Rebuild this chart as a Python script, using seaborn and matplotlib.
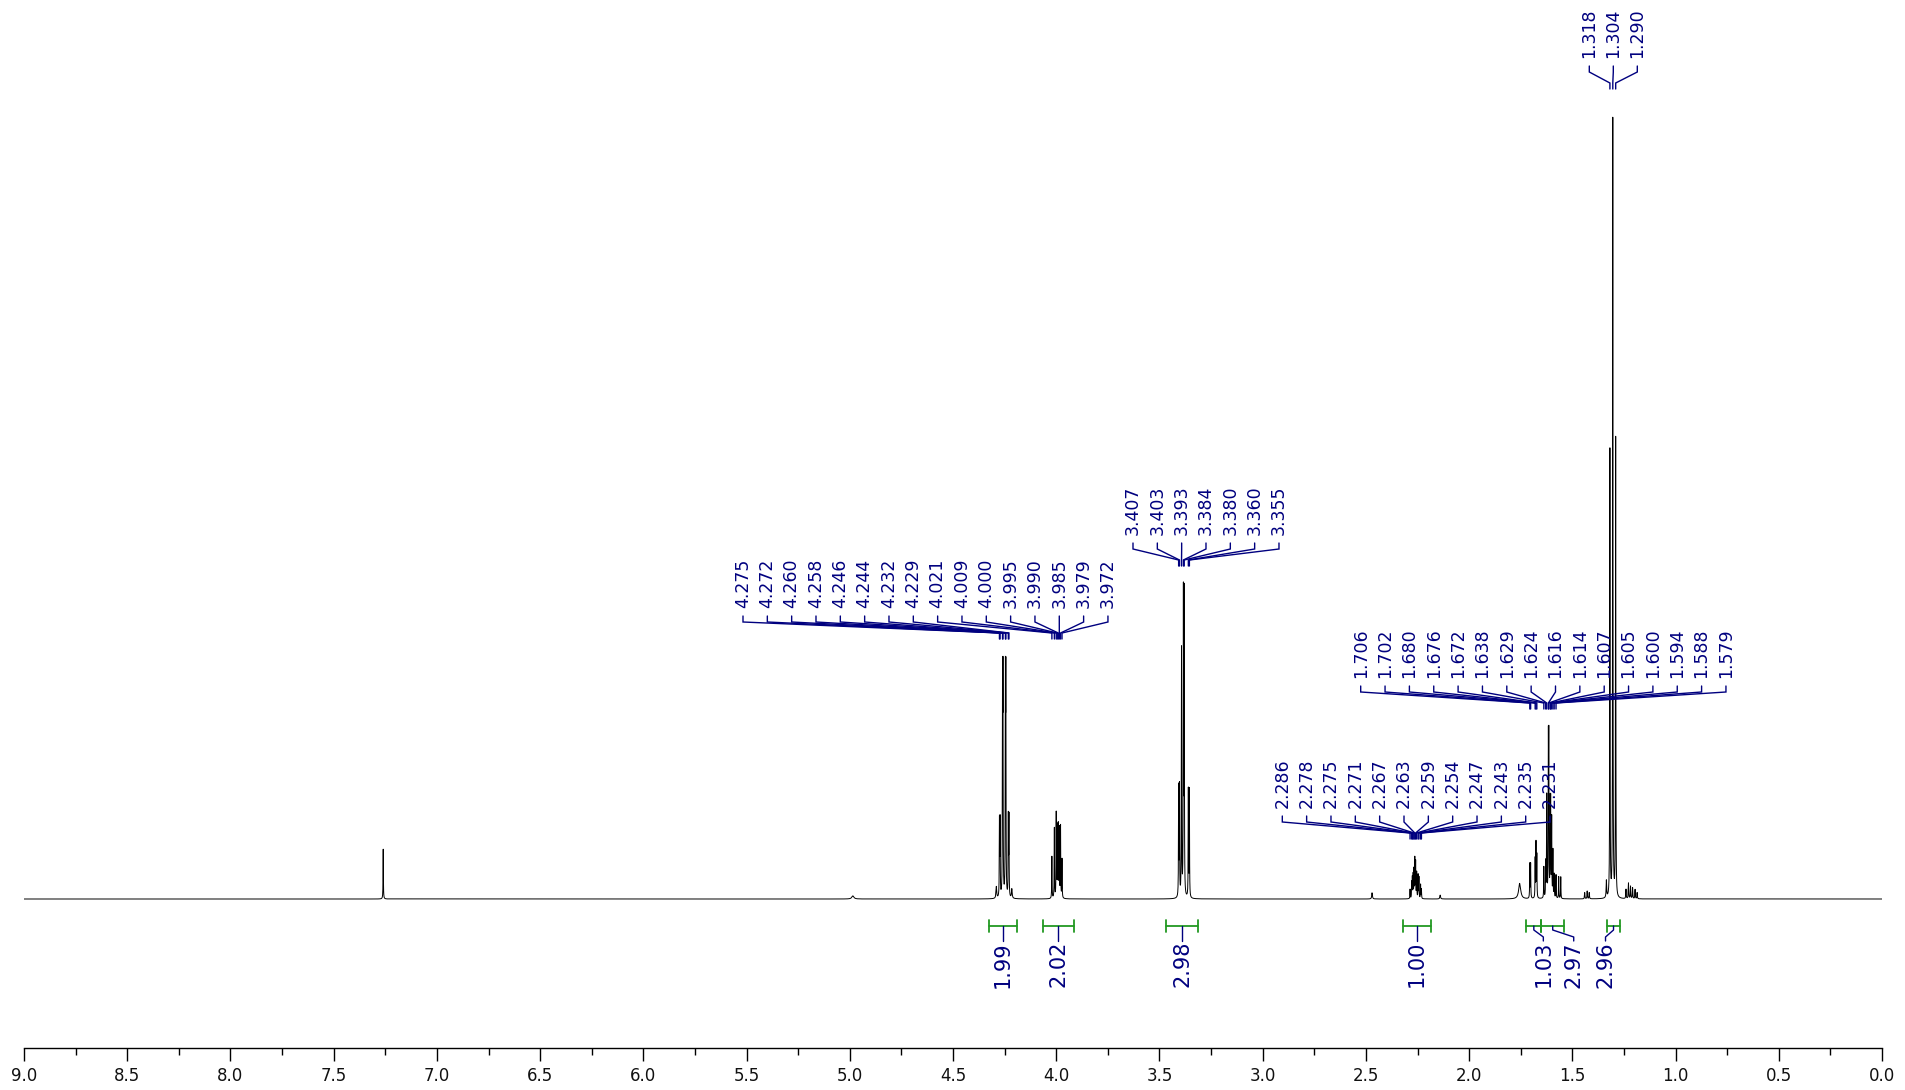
import numpy as np
import pandas as pd
import matplotlib
matplotlib.use("Agg")
import matplotlib.pyplot as plt
import seaborn as sns

# ---------------- data ----------------
# labelled peak groups (ppm) and their relative heights (tallest line = 1)
group_a = [4.275, 4.272, 4.260, 4.258, 4.246, 4.244, 4.232, 4.229,
           4.021, 4.009, 4.000, 3.995, 3.990, 3.985, 3.979, 3.972]
group_a_h = [0.097, 0.097, 0.264, 0.264, 0.264, 0.264, 0.101, 0.101,
             0.054, 0.090, 0.108, 0.090, 0.092, 0.088, 0.092, 0.050]

group_b = [3.407, 3.403, 3.393, 3.384, 3.380, 3.360, 3.355]
group_b_h = [0.140, 0.140, 0.318, 0.385, 0.385, 0.138, 0.138]

group_d = [2.286, 2.278, 2.275, 2.271, 2.267, 2.263, 2.259, 2.254,
           2.247, 2.243, 2.235, 2.231]
group_d_h = [0.012, 0.020, 0.026, 0.030, 0.036, 0.050, 0.046, 0.033,
             0.030, 0.027, 0.018, 0.012]

group_c = [1.706, 1.702, 1.680, 1.676, 1.672, 1.638, 1.629, 1.624,
           1.616, 1.614, 1.607, 1.605, 1.600, 1.594, 1.588, 1.579]
group_c_h = [0.044, 0.044, 0.050, 0.070, 0.055, 0.040, 0.045, 0.130,
             0.187, 0.187, 0.110, 0.110, 0.100, 0.060, 0.030, 0.030]

group_e = [1.318, 1.304, 1.290]
group_e_h = [0.575, 1.000, 0.590]

# unlabelled small signals (solvent, impurities, satellites)
other_ppm = [7.260, 4.985, 4.290, 4.215, 2.470, 2.140, 1.755, 1.566, 1.556,
             1.440, 1.428, 1.418, 1.335, 1.240, 1.228, 1.218, 1.208, 1.196, 1.186]
other_h = [0.064, 0.004, 0.015, 0.012, 0.008, 0.005, 0.020, 0.028, 0.028,
           0.008, 0.010, 0.008, 0.022, 0.012, 0.020, 0.016, 0.014, 0.012, 0.008]
other_w = [0.0009, 0.006, 0.002, 0.002, 0.002, 0.002, 0.006, 0.0009, 0.0009,
           0.0012, 0.0012, 0.0012, 0.0015, 0.0012, 0.0012, 0.0012, 0.0012, 0.0012, 0.0012]

# integrals: start, end (ppm) and value
int_start = [4.325, 4.066, 3.466, 2.322, 1.723, 1.650, 1.330]
int_end = [4.189, 3.913, 3.312, 2.187, 1.650, 1.540, 1.271]
int_value = ["1.99", "2.02", "2.98", "1.00", "1.03", "2.97", "2.96"]

tick_vals = [9.0, 8.5, 8.0, 7.5, 7.0, 6.5, 6.0, 5.5, 5.0, 4.5, 4.0,
             3.5, 3.0, 2.5, 2.0, 1.5, 1.0, 0.5, 0.0]

# ---------------- build spectrum from the peak list ----------------
line_w = 0.0009
peaks_ppm = np.array(group_a + group_b + group_d + group_c + group_e + other_ppm)
peaks_h = np.array(group_a_h + group_b_h + group_d_h + group_c_h + group_e_h + other_h)
peaks_w = np.array([line_w] * (len(peaks_ppm) - len(other_ppm)) + other_w)

ppm = np.union1d(np.linspace(0.0, 9.0, 45001), peaks_ppm)
intens = np.zeros_like(ppm)
for p, h, w in zip(peaks_ppm, peaks_h, peaks_w):
    intens += h / (1.0 + ((ppm - p) / w) ** 2)
df = pd.DataFrame({"ppm": ppm, "intensity": intens})

# ---------------- figure layout ----------------
W, H = 1905, 1090
X0, X1 = 24, 1882          # pixel x of 9.0 and 0.0
AX_BOTTOM = 1048           # pixel y of the axis line
BASE = 899                 # pixel y of spectrum baseline
UNIT = 778                 # pixels for intensity 1.0
PPM_PX = (X1 - X0) / 9.0

def Y(py):
    return (BASE - py) / UNIT

def XP(px):
    return 9.0 - (px - X0) / PPM_PX

sns.set_theme(style="ticks")
plt.rcParams["font.family"] = ["DejaVu Sans"]

fig = plt.figure(figsize=(W / 100, H / 100), dpi=100)
ax = fig.add_axes([X0 / W, (H - AX_BOTTOM) / H, (X1 - X0) / W, AX_BOTTOM / H])

sns.lineplot(data=df, x="ppm", y="intensity", ax=ax, color="black",
             linewidth=0.7, estimator=None, sort=False)

ax.set_xlim(9.0, 0.0)
ax.set_ylim(Y(AX_BOTTOM), Y(0))
for s in ["top", "left", "right"]:
    ax.spines[s].set_visible(False)
ax.spines["bottom"].set_linewidth(1.0)
ax.spines["bottom"].set_color("black")
ax.set_yticks([])
ax.set_xticks(tick_vals)
ax.set_xticklabels([f"{v:.1f}" for v in tick_vals])
ax.set_xticks(np.array(tick_vals[:-1]) - 0.25, minor=True)
ax.tick_params(axis="x", which="major", length=9, width=1, labelsize=12,
               pad=5, color="black", labelcolor="#111111", direction="out")
ax.tick_params(axis="x", which="minor", length=5, width=1, color="black",
               direction="out")
ax.set_xlabel("")
ax.set_ylabel("")

navy = "#00007f"
green = "#229922"

# ---------------- peak labels ----------------
def label_group(shifts, x0_px, step_px, text_bottom):
    tb = text_bottom
    for i, s in enumerate(shifts):
        lx = XP(x0_px + i * step_px)
        ax.text(lx, Y(tb), f"{s:.3f}", rotation=90, ha="center", va="bottom",
                fontsize=12.5, color=navy)
        ax.plot([lx, lx, s, s], [Y(tb + 8), Y(tb + 14), Y(tb + 25), Y(tb + 31)],
                color=navy, lw=1.0, solid_joinstyle="miter")

label_group(group_a, 743, 24.33, 608)
label_group(group_b, 1133, 24.33, 535)
label_group(group_c, 1360.7, 24.35, 678)
label_group(group_d, 1282.3, 24.34, 808)
label_group(group_e, 1589.3, 24.0, 58)

# ---------------- integrals ----------------
label_shift_px = [0, 0, 0, 0, 9.5, 21, -8]
bar_y = 926
for a, b, v, sh in zip(int_start, int_end, int_value, label_shift_px):
    ax.plot([a, b], [Y(bar_y), Y(bar_y)], color=green, lw=1.3)
    for e in (a, b):
        ax.plot([e, e], [Y(bar_y - 6), Y(bar_y + 6)], color=green, lw=1.3)
    c = (a + b) / 2.0
    tx = c - sh / PPM_PX
    if sh == 0:
        ax.plot([c, c], [Y(bar_y), Y(941)], color=navy, lw=1.0)
    else:
        ax.plot([c, c, tx, tx], [Y(bar_y), Y(bar_y + 4), Y(bar_y + 11), Y(941)],
                color=navy, lw=1.0)
    ax.text(tx, Y(941), v, rotation=90, ha="center", va="top",
            fontsize=15, color=navy)

fig.savefig("out.png", dpi=100)
